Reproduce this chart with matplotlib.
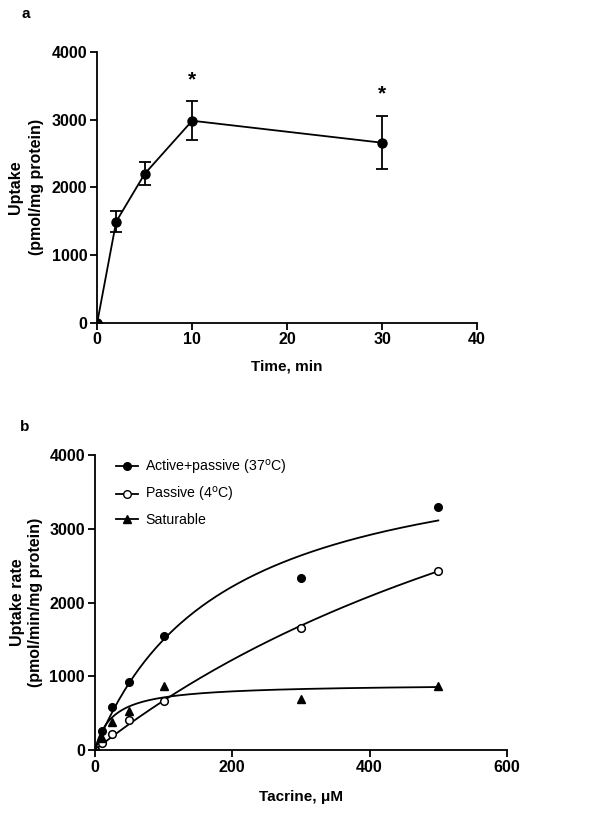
import numpy as np
import matplotlib
matplotlib.use("Agg")
import matplotlib.pyplot as plt

plt.rcParams['font.family'] = ['Liberation Sans', 'DejaVu Sans']

# panel a: time course
time_min = [0, 2, 5, 10, 30]
uptake = [0, 1495, 2200, 2985, 2660]
uptake_err = [0, 160, 170, 290, 390]
star_times = [10, 30]
star_heights = [3590, 3380]

# panel b: concentration dependence
tacrine = [0, 10, 25, 50, 100, 300, 500]
active_passive = [0, 253, 588, 927, 1546, 2341, 3295]
passive = [0, 90, 212, 402, 669, 1650, 2427]
saturable = [0, 158, 375, 529, 872, 687, 862]

# fitted Michaelis-Menten parameters (Vmax, Km) for the curves
fit_active = (4268, 185)
fit_passive = (7072, 957)
fit_saturable = (899, 26)

fig = plt.figure(figsize=(6, 8.13), dpi=100)

# ---- panel a
ax1 = fig.add_axes([0.162, 0.603, 0.633, 0.333])
ax1.errorbar(time_min, uptake, yerr=uptake_err, color='black', marker='o',
             markersize=6.5, linewidth=1.3, capsize=4, capthick=1.3, elinewidth=1.3)
for t, h in zip(star_times, star_heights):
    ax1.text(t, h, '*', ha='center', va='center', fontsize=15, fontweight='bold')
ax1.set_xlim(0, 40)
ax1.set_ylim(0, 4000)
ax1.set_xticks([0, 10, 20, 30, 40])
ax1.set_yticks([0, 1000, 2000, 3000, 4000])
ax1.set_xlabel('Time, min', fontsize=11, fontweight='bold', labelpad=9)
ax1.set_ylabel('Uptake\n(pmol/mg protein)', fontsize=11.5, fontweight='bold', labelpad=6,
               linespacing=1.5)
fig.text(0.035, 0.992, 'a', fontsize=11, fontweight='bold', va='top')

# ---- panel b
ax2 = fig.add_axes([0.158, 0.0775, 0.687, 0.3625])
xs = np.linspace(0, 500, 200)
for (vmax, km) in (fit_active, fit_passive, fit_saturable):
    ax2.plot(xs, vmax * xs / (km + xs), color='black', linewidth=1.3)
ax2.plot(tacrine, active_passive, 'o', color='black', markersize=5.5)
ax2.plot(tacrine, passive, 'o', markerfacecolor='white', markeredgecolor='black',
         markeredgewidth=1.1, markersize=5.5)
ax2.plot(tacrine, saturable, '^', color='black', markersize=5.5)

h1, = ax2.plot([], [], '-o', color='black', markersize=5.5, linewidth=1.3)
h2, = ax2.plot([], [], '-o', color='black', markerfacecolor='white', markersize=5.5, linewidth=1.3)
h3, = ax2.plot([], [], '-^', color='black', markersize=5.5, linewidth=1.3)
ax2.legend([h1, h2, h3], ['Active+passive (37$^{\\rm o}$C)', 'Passive (4$^{\\rm o}$C)', 'Saturable'],
           loc='upper left', bbox_to_anchor=(0.02, 1.035), frameon=False, fontsize=10.2,
           handlelength=1.6, handletextpad=0.45, labelspacing=0.62)

ax2.set_xlim(0, 600)
ax2.set_ylim(0, 4000)
ax2.set_xticks([0, 200, 400, 600])
ax2.set_yticks([0, 1000, 2000, 3000, 4000])
ax2.set_xlabel('Tacrine, \u03bcM', fontsize=11, fontweight='bold', labelpad=11)
ax2.set_ylabel('Uptake rate\n(pmol/min/mg protein)', fontsize=11.5, fontweight='bold', labelpad=5)
fig.text(0.033, 0.483, 'b', fontsize=11, fontweight='bold', va='top')

for ax in (ax1, ax2):
    ax.spines['top'].set_visible(False)
    ax.spines['right'].set_visible(False)
    ax.spines['left'].set_linewidth(1.3)
    ax.spines['bottom'].set_linewidth(1.3)
    ax.tick_params(direction='out', length=5, width=1.3, labelsize=11.5, pad=2)
    for lab in ax.get_xticklabels() + ax.get_yticklabels():
        lab.set_fontweight('bold')

fig.savefig('out.png', dpi=100)
